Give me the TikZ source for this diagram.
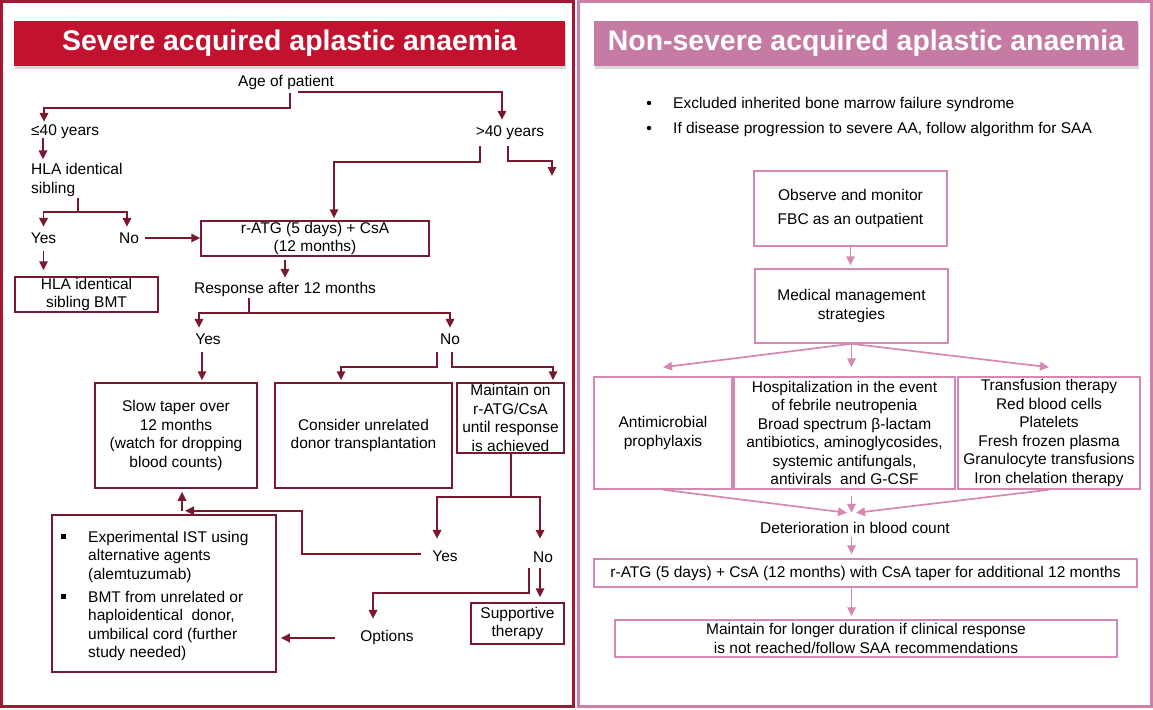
\documentclass[tikz,border=0pt]{standalone}
\usepackage{fontspec}
\setmainfont{Liberation Sans}
\usetikzlibrary{arrows.meta,calc,shadows}
\definecolor{sevred}{RGB}{195,18,47}
\definecolor{sevframe}{RGB}{165,22,52}
\definecolor{sevline}{RGB}{122,24,48}
\definecolor{nsfill}{RGB}{197,123,163}
\definecolor{nsframe}{RGB}{204,128,170}
\definecolor{nsline}{RGB}{212,136,178}

\begin{document}
\begin{tikzpicture}[x=1pt,y=-1pt,
    txt/.style={font=\fontsize{15.5}{18.5}\selectfont,inner sep=0pt,minimum height=18pt,align=center},
    sbox/.style={txt,draw=sevline,line width=1.5pt},
    nbox/.style={txt,draw=nsline,line width=1.5pt},
    title/.style={font=\fontsize{28.4}{32}\selectfont\bfseries,text=white,inner sep=0pt,minimum height=45pt,
        drop shadow={shadow xshift=1pt,shadow yshift=-2.5pt,opacity=0.25,fill=black!60}},
    sarr/.style={draw=sevline,line width=1.7pt,-{Triangle[length=9pt,width=8.5pt]}},
    narr/.style={draw=nsline,line width=1.7pt,-{Triangle[length=9pt,width=8.5pt]}}]
        \useasboundingbox (0,0) rectangle (1153,709);

        %Shape: Rectangle [frames]
        \draw[sevframe,line width=3pt] (1.5,1.5) rectangle (573.5,706.5);
        \draw[nsframe,line width=3pt] (578.5,1.5) rectangle (1151.5,706.5);

        % Title bars
        \node[title,fill=sevred,minimum width=551pt] (sevtitle) at (289.5,43.5) {Severe acquired aplastic anaemia};
        \node[title,fill=nsfill,minimum width=544pt] (nstitle) at (866,43.5) {Non-severe acquired aplastic anaemia};

        %%% Severe: nodes
        % Text Node
        \node[txt] (age) at (286,82) {Age of patient};
        % Text Node
        \node[txt,anchor=west] (le40) at (31,132) {≤40 years};
        % Text Node
        \node[txt] (gt40) at (510,133) {>40 years};
        % Text Node
        \node[txt,anchor=west,align=left] (hla) at (31,180) {HLA identical\\sibling};
        % Text Node
        \node[txt] (yes1) at (43.5,238) {Yes};
        % Text Node
        \node[txt] (no1) at (129,238) {No};
        %Shape: Rectangle
        \node[sbox,minimum width=228pt,minimum height=35pt] (ratg) at (315,238.5) {r-ATG (5 days) + CsA\\(12 months)};
        %Shape: Rectangle
        \node[sbox,minimum width=143pt,minimum height=35pt] (hlabmt) at (86.5,294.5) {HLA identical\\sibling BMT};
        % Text Node
        \node[txt] (resp) at (285,289) {Response after 12 months};
        % Text Node
        \node[txt] (yes2) at (208,339) {Yes};
        % Text Node
        \node[txt] (no2) at (450,339) {No};
        %Shape: Rectangle
        \node[sbox,minimum width=162pt,minimum height=105pt] (taper) at (176,435.5) {Slow taper over\\12 months\\(watch for dropping\\blood counts)};
        %Shape: Rectangle
        \node[sbox,minimum width=177pt,minimum height=105pt] (consider) at (363.5,435.5) {Consider unrelated\\donor transplantation};
        %Shape: Rectangle
        \node[sbox,minimum width=107pt,minimum height=70pt] (maintain) at (510.5,418) {Maintain on\\r-ATG/CsA\\until response\\is achieved};
        % Text Node
        \node[txt] (yes3) at (445,556) {Yes};
        % Text Node
        \node[txt] (no3) at (543,557) {No};
        % Text Node
        \node[txt] (options) at (387,637) {Options};
        %Shape: Rectangle
        \node[sbox,minimum width=93pt,minimum height=41pt] (supp) at (517.5,623.5) {Supportive\\therapy};
        %Shape: Rectangle
        \node[sbox,minimum width=224pt,minimum height=157pt] (ist) at (164,593.5) {};
        \node[fill=black,inner sep=0pt,minimum size=5pt] (sq1) at (63,536) {};
        \node[txt,anchor=north west,align=left] (ist1) at (88,531) {Experimental IST using\\alternative agents\\(alemtuzumab)};
        \node[fill=black,inner sep=0pt,minimum size=5pt] (sq2) at (63,596) {};
        \node[txt,anchor=north west,align=left] (ist2) at (88,591) {BMT from unrelated or\\haploidentical\ \ donor,\\umbilical cord (further\\study needed)};
        \coordinate (gtout) at (552,176);

        %%% Severe: connectors
        \draw[sarr] ($(age.south)+(4,2)$) -- ++(0,15) -| ($(le40.north west)+(13,-1)$);
        \draw[sarr] ($(age.south)+(12,1)$) -| ($(gt40.north)+(-8,-4)$);
        \draw[sarr] ($(le40.south west)+(12,-3)$) -- ($(hla.north west)+(12,-4)$);
        \draw[sarr] ($(hla.south west)+(47,1)$) -- ++(0,14) -| ($(yes1.north)+(0,-2)$);
        \draw[sarr] ($(hla.south west)+(47,15)$) -| ($(no1.north)+(-2,-2)$);
        \draw[sarr] ($(no1.east)+(6,0)$) -- (ratg.west |- no1.east);
        \draw[sarr] ($(gt40.south)+(-30,4)$) -- ++(0,16) -| ($(ratg.north)+(19,-2)$);
        \draw[sarr] ($(gt40.south)+(-2,4)$) -- ++(0,15) -| (gtout);
        \draw[sarr] ($(yes1.south)+(0,4)$) -- ($(hlabmt.north)+(-43,-6)$);
        \draw[sarr] ($(ratg.south)+(-30,3)$) -- ($(resp.north)+(0,-2)$);
        \draw[sarr] ($(resp.south)+(-36,0)$) -- ++(0,15) -| ($(yes2.north)+(-9,-2)$);
        \draw[sarr] ($(resp.south)+(-36,15)$) -| ($(no2.north)+(0,-2)$);
        \draw[sarr] ($(yes2.south)+(-6,4)$) -- ($(taper.north)+(26,-2)$);
        \draw[sarr] ($(no2.south)+(-13,4)$) -- ++(0,15) -| ($(consider.north)+(-22.5,-2)$);
        \draw[sarr] ($(no2.south)+(2,4)$) -- ++(0,15) -| ($(maintain.north)+(42.5,-2)$);
        \draw[sarr] ($(maintain.south)+(0.5,0)$) -- ++(0,43) -| ($(yes3.north)+(-8,-8)$);
        \draw[sarr] ($(maintain.south)+(0.5,43)$) -| ($(no3.north)+(-3,-9)$);
        \draw[sarr] ($(yes3.west)+(-11,-2)$) -| ($(taper.south)+(126,22)$) -- ($(taper.south)+(9,22)$);
        \draw[sarr] ($(taper.south)+(6,22)$) -- ($(taper.south)+(6,3)$);
        \draw[sarr] ($(no3.south)+(-14,2)$) -- ++(0,25) -| ($(options.north)+(-14,-9)$);
        \draw[sarr] ($(no3.south)+(-3,2)$) -- ($(supp.north)+(22.5,-5)$);
        \draw[sarr] ($(options.west)+(-25,1)$) -- ($(ist.east |- options.west)+(4,1)$);

        %%% Non-severe: nodes
        \node[fill=black,circle,inner sep=0pt,minimum size=4.5pt] (dot1) at (649,103) {};
        \node[txt,anchor=west] (bul1) at (673,104) {Excluded inherited bone marrow failure syndrome};
        \node[fill=black,circle,inner sep=0pt,minimum size=4.5pt] (dot2) at (649,128) {};
        \node[txt,anchor=west] (bul2) at (673,129) {If disease progression to severe AA, follow algorithm for SAA};
        %Shape: Rectangle
        \node[nbox,minimum width=193pt,minimum height=75pt] (obs) at (850.5,208.5) {Observe and monitor\\[5.5pt]FBC as an outpatient};
        %Shape: Rectangle
        \node[nbox,minimum width=193pt,minimum height=74pt] (med) at (851.5,306) {Medical management\\strategies};
        %Shape: Rectangle
        \node[nbox,minimum width=138pt,minimum height=112pt] (anti) at (663,433) {Antimicrobial\\prophylaxis};
        %Shape: Rectangle
        \node[nbox,minimum width=221pt,minimum height=112pt] (hosp) at (844.5,433) {Hospitalization in the event\\of febrile neutropenia\\Broad spectrum β-lactam\\antibiotics, aminoglycosides,\\systemic antifungals,\\antivirals\ \ and G-CSF};
        %Shape: Rectangle
        \node[nbox,minimum width=182pt,minimum height=112pt] (trans) at (1049,433) {Transfusion therapy\\Red blood cells\\Platelets\\Fresh frozen plasma\\Granulocyte transfusions\\Iron chelation therapy};
        % Text Node
        \node[txt] (det) at (855,528) {Deterioration in blood count};
        %Shape: Rectangle
        \node[nbox,minimum width=543pt,minimum height=28pt] (rbox) at (865.5,573) {r-ATG (5 days) + CsA (12 months) with CsA taper for additional 12 months};
        %Shape: Rectangle
        \node[nbox,minimum width=502pt,minimum height=37pt] (keep) at (866,638.5) {Maintain for longer duration if clinical response\\is not reached/follow SAA recommendations};

        %%% Non-severe: connectors
        \draw[narr] (obs.south) -- ($(obs.south |- med.north)+(0,-3)$);
        \draw[narr] (med.south) -- ($(anti.north)+(0,-9)$);
        \draw[narr] (med.south) -- ($(med.south |- hosp.north)+(0,-9)$);
        \draw[narr] (med.south) -- ($(trans.north)+(0,-9)$);
        \draw[narr] (anti.south) -- ($(det.north)+(-8,-6)$);
        \draw[narr] ($(hosp.south -| med.south)+(0,6)$) -- ($(det.north -| med.south)+(0,-6)$);
        \draw[narr] (trans.south) -- ($(det.north)+(1,-6)$);
        \draw[narr] (det.south -| med.south) -- ($(rbox.north -| med.south)+(0,-4)$);
        \draw[narr] (rbox.south -| med.south) -- ($(keep.north -| med.south)+(0,-3)$);
\end{tikzpicture}
\end{document}
